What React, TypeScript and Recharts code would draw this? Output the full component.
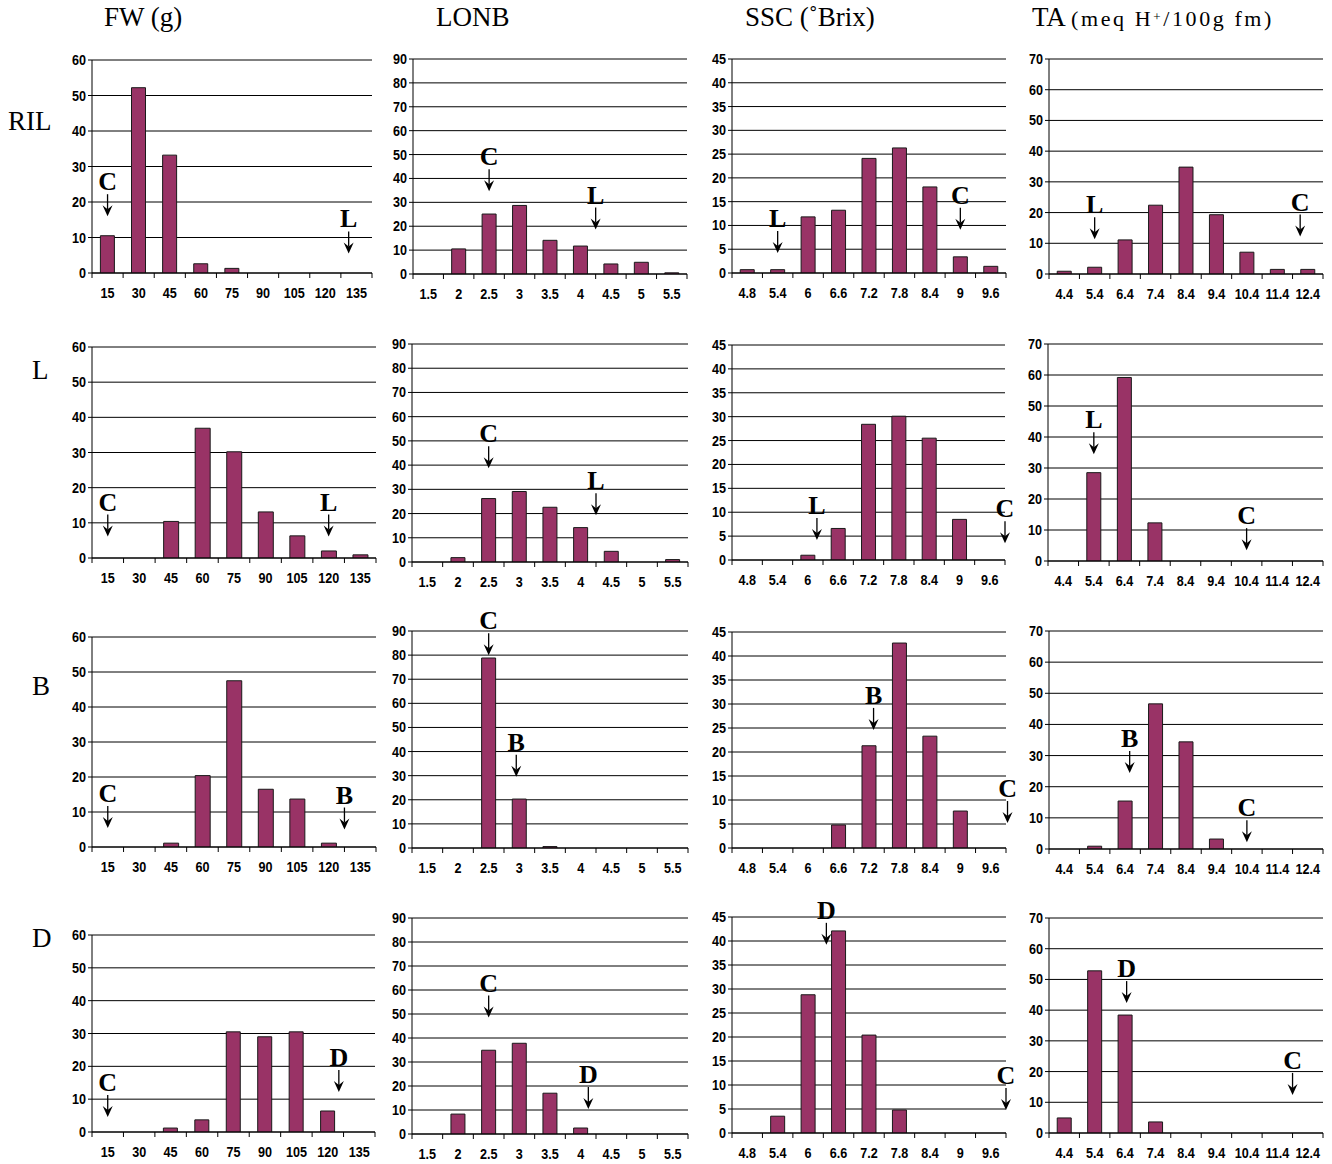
import React from 'react';
import { BarChart, Bar, XAxis, YAxis, CartesianGrid, ReferenceDot } from 'recharts';

// ---------- categories & ticks ----------
const FW_CATS = ['15', '30', '45', '60', '75', '90', '105', '120', '135'];
const LONB_CATS = ['1.5', '2', '2.5', '3', '3.5', '4', '4.5', '5', '5.5'];
const SSC_CATS = ['4.8', '5.4', '6', '6.6', '7.2', '7.8', '8.4', '9', '9.6'];
const TA_CATS = ['4.4', '5.4', '6.4', '7.4', '8.4', '9.4', '10.4', '11.4', '12.4'];

const FW_TICKS = [0, 10, 20, 30, 40, 50, 60];
const LONB_TICKS = [0, 10, 20, 30, 40, 50, 60, 70, 80, 90];
const SSC_TICKS = [0, 5, 10, 15, 20, 25, 30, 35, 40, 45];
const TA_TICKS = [0, 10, 20, 30, 40, 50, 60, 70];

// ---------- series values (frequency %) ----------
const FW_RIL = [10.5, 52.2, 33.2, 2.6, 1.3, 0, 0, 0, 0];
const LONB_RIL = [0, 10.5, 25.1, 28.7, 14.1, 11.7, 4.2, 4.9, 0.5];
const SSC_RIL = [0.7, 0.7, 11.8, 13.2, 24.1, 26.3, 18.1, 3.4, 1.4];
const TA_RIL = [0.9, 2.2, 11.1, 22.4, 34.8, 19.3, 7.1, 1.5, 1.5];

const FW_L = [0, 0, 10.4, 36.9, 30.2, 13.1, 6.3, 2.0, 0.9];
const LONB_L = [0, 1.8, 26.2, 29.1, 22.6, 14.2, 4.4, 0, 1.0];
const SSC_L = [0, 0, 1.0, 6.6, 28.4, 30.1, 25.5, 8.5, 0];
const TA_L = [0, 28.5, 59.2, 12.3, 0, 0, 0, 0, 0];

const FW_B = [0, 0, 1.1, 20.4, 47.5, 16.5, 13.7, 1.1, 0];
const LONB_B = [0, 0, 78.8, 20.3, 0.6, 0, 0, 0, 0];
const SSC_B = [0, 0, 0, 4.8, 21.3, 42.7, 23.3, 7.7, 0];
const TA_B = [0, 0.9, 15.4, 46.6, 34.4, 3.2, 0, 0, 0];

const FW_D = [0, 0, 1.2, 3.7, 30.5, 29.0, 30.5, 6.4, 0];
const LONB_D = [0, 8.3, 34.9, 37.8, 17.0, 2.5, 0, 0, 0];
const SSC_D = [0, 3.5, 28.8, 42.1, 20.4, 4.8, 0, 0, 0];
const TA_D = [4.9, 52.8, 38.4, 3.6, 0, 0, 0, 0, 0];

// ---------- parent markers: letter, category, offset in bands, arrow tip value ----------
type Mark = { letter: string; cat: string; shift: number; tip: number };
const FW_RIL_M: Mark[] = [{ letter: 'C', cat: '15', shift: 0, tip: 16 }, { letter: 'L', cat: '135', shift: -0.25, tip: 5.5 }];
const LONB_RIL_M: Mark[] = [{ letter: 'C', cat: '2.5', shift: 0, tip: 34.6 }, { letter: 'L', cat: '4', shift: 0.5, tip: 18.6 }];
const SSC_RIL_M: Mark[] = [{ letter: 'L', cat: '5.4', shift: 0, tip: 4.2 }, { letter: 'C', cat: '9', shift: 0, tip: 9.1 }];
const TA_RIL_M: Mark[] = [{ letter: 'L', cat: '5.4', shift: 0, tip: 11.3 }, { letter: 'C', cat: '12.4', shift: -0.25, tip: 12.2 }];

const FW_L_M: Mark[] = [{ letter: 'C', cat: '15', shift: 0, tip: 6.1 }, { letter: 'L', cat: '120', shift: 0, tip: 6.1 }];
const LONB_L_M: Mark[] = [{ letter: 'C', cat: '2.5', shift: 0, tip: 38.7 }, { letter: 'L', cat: '4', shift: 0.5, tip: 19.3 }];
const SSC_L_M: Mark[] = [{ letter: 'L', cat: '6', shift: 0.3, tip: 4.2 }, { letter: 'C', cat: '9.6', shift: 0.5, tip: 3.5 }];
const TA_L_M: Mark[] = [{ letter: 'L', cat: '5.4', shift: 0, tip: 34.4 }, { letter: 'C', cat: '10.4', shift: 0, tip: 3.5 }];

const FW_B_M: Mark[] = [{ letter: 'C', cat: '15', shift: 0, tip: 5.4 }, { letter: 'B', cat: '120', shift: 0.5, tip: 5.0 }];
const LONB_B_M: Mark[] = [{ letter: 'C', cat: '2.5', shift: 0, tip: 79.9 }, { letter: 'B', cat: '3', shift: -0.1, tip: 29.6 }];
const SSC_B_M: Mark[] = [{ letter: 'B', cat: '7.2', shift: 0.15, tip: 24.6 }, { letter: 'C', cat: '9.6', shift: 0.55, tip: 5.2 }];
const TA_B_M: Mark[] = [{ letter: 'B', cat: '6.4', shift: 0.15, tip: 24.4 }, { letter: 'C', cat: '10.4', shift: 0, tip: 2.2 }];

const FW_D_M: Mark[] = [{ letter: 'C', cat: '15', shift: 0, tip: 4.6 }, { letter: 'D', cat: '120', shift: 0.35, tip: 12.2 }];
const LONB_D_M: Mark[] = [{ letter: 'C', cat: '2.5', shift: 0, tip: 48.5 }, { letter: 'D', cat: '4', shift: 0.25, tip: 10.4 }];
const SSC_D_M: Mark[] = [{ letter: 'D', cat: '6.6', shift: -0.4, tip: 39.2 }, { letter: 'C', cat: '9.6', shift: 0.5, tip: 4.8 }];
const TA_D_M: Mark[] = [{ letter: 'D', cat: '6.4', shift: 0.05, tip: 42.3 }, { letter: 'C', cat: '12.4', shift: -0.5, tip: 12.4 }];

// ---------- layout (plot rectangles in page pixels) ----------
type Geo = { ax: number; right: number; top: number; zero: number };
type PanelDef = { cats: string[]; ticks: number[]; values: number[]; marks: Mark[]; geo: Geo };

const PANELS: PanelDef[] = [
  { cats: FW_CATS, ticks: FW_TICKS, values: FW_RIL, marks: FW_RIL_M, geo: { ax: 92, right: 372, top: 60, zero: 273 } },
  { cats: LONB_CATS, ticks: LONB_TICKS, values: LONB_RIL, marks: LONB_RIL_M, geo: { ax: 413, right: 687, top: 59, zero: 274 } },
  { cats: SSC_CATS, ticks: SSC_TICKS, values: SSC_RIL, marks: SSC_RIL_M, geo: { ax: 732, right: 1006, top: 59, zero: 273 } },
  { cats: TA_CATS, ticks: TA_TICKS, values: TA_RIL, marks: TA_RIL_M, geo: { ax: 1049, right: 1323, top: 59, zero: 274 } },

  { cats: FW_CATS, ticks: FW_TICKS, values: FW_L, marks: FW_L_M, geo: { ax: 92, right: 376, top: 347, zero: 558 } },
  { cats: LONB_CATS, ticks: LONB_TICKS, values: LONB_L, marks: LONB_L_M, geo: { ax: 412, right: 688, top: 344, zero: 562 } },
  { cats: SSC_CATS, ticks: SSC_TICKS, values: SSC_L, marks: SSC_L_M, geo: { ax: 732, right: 1005, top: 345, zero: 560 } },
  { cats: TA_CATS, ticks: TA_TICKS, values: TA_L, marks: TA_L_M, geo: { ax: 1048, right: 1323, top: 344, zero: 561 } },

  { cats: FW_CATS, ticks: FW_TICKS, values: FW_B, marks: FW_B_M, geo: { ax: 92, right: 376, top: 637, zero: 847 } },
  { cats: LONB_CATS, ticks: LONB_TICKS, values: LONB_B, marks: LONB_B_M, geo: { ax: 412, right: 688, top: 631, zero: 848 } },
  { cats: SSC_CATS, ticks: SSC_TICKS, values: SSC_B, marks: SSC_B_M, geo: { ax: 732, right: 1006, top: 632, zero: 848 } },
  { cats: TA_CATS, ticks: TA_TICKS, values: TA_B, marks: TA_B_M, geo: { ax: 1049, right: 1323, top: 631, zero: 849 } },

  { cats: FW_CATS, ticks: FW_TICKS, values: FW_D, marks: FW_D_M, geo: { ax: 92, right: 375, top: 935, zero: 1132 } },
  { cats: LONB_CATS, ticks: LONB_TICKS, values: LONB_D, marks: LONB_D_M, geo: { ax: 412, right: 688, top: 918, zero: 1134 } },
  { cats: SSC_CATS, ticks: SSC_TICKS, values: SSC_D, marks: SSC_D_M, geo: { ax: 732, right: 1006, top: 917, zero: 1133 } },
  { cats: TA_CATS, ticks: TA_TICKS, values: TA_D, marks: TA_D_M, geo: { ax: 1049, right: 1323, top: 918, zero: 1133 } },
];

const Y_W = 40;
const M_TOP = 40;
const M_RIGHT = 16;
const X_H = 34;
const X_LABEL_DY = 25;
const BAR_FILL = '#993366';
const TICK_FONT = "'Liberation Sans', Arial, sans-serif";
const SERIF = "'Liberation Serif', 'Times New Roman', serif";

const Arrow = (props: any) => {
  const { cx, cy, letter, shift, band } = props;
  if (cx == null || cy == null) return null;
  const x = cx + shift * band;
  return (
    <g>
      <line x1={x} y1={cy - 22} x2={x} y2={cy - 7} stroke="#000" strokeWidth={1.3} />
      <path d={`M${x - 5},${cy - 11} L${x},${cy} L${x + 5},${cy - 11} L${x},${cy - 7} Z`} fill="#000" />
      <text x={x} y={cy - 26} textAnchor="middle" fontFamily={SERIF} fontWeight="bold" fontSize={26} fill="#000">
        {letter}
      </text>
    </g>
  );
};

const Panel = ({ def }: { def: PanelDef }) => {
  const { geo, cats, values, ticks, marks } = def;
  const plotW = geo.right - geo.ax;
  const plotH = geo.zero - geo.top;
  const band = plotW / cats.length;
  const data = cats.map((c, i) => ({ cat: c, value: values[i] }));
  const yMax = ticks[ticks.length - 1];
  const width = Y_W + plotW + M_RIGHT;
  const height = M_TOP + plotH + X_H;

  const XTick = (p: any) => {
    const { x, y, payload, index } = p;
    const last = index === cats.length - 1;
    return (
      <g>
        <line x1={x - band / 2} y1={y} x2={x - band / 2} y2={y + 5} stroke="#000" strokeWidth={1} />
        {last && <line x1={x + band / 2} y1={y} x2={x + band / 2} y2={y + 5} stroke="#000" strokeWidth={1} />}
        <g transform={`translate(${x},${y + X_LABEL_DY})`}>
          <text transform="scale(0.9,1)" textAnchor="middle" fontFamily={TICK_FONT} fontWeight="bold" fontSize={14} fill="#000">
            {payload.value}
          </text>
        </g>
      </g>
    );
  };

  const YTick = (p: any) => {
    const { x, y, payload } = p;
    return (
      <g transform={`translate(${x},${y + 5})`}>
        <text transform="scale(0.9,1)" textAnchor="end" fontFamily={TICK_FONT} fontWeight="bold" fontSize={14} fill="#000">
          {payload.value}
        </text>
      </g>
    );
  };

  return (
    <div style={{ position: 'absolute', left: geo.ax - Y_W, top: geo.top - M_TOP }}>
      <BarChart
        width={width}
        height={height}
        data={data}
        margin={{ top: M_TOP, right: M_RIGHT, left: 0, bottom: 0 }}
        barCategoryGap="27%"
      >
        <CartesianGrid horizontal vertical={false} stroke="#000" strokeWidth={1} />
        <XAxis
          dataKey="cat"
          type="category"
          height={X_H}
          interval={0}
          tickLine={false}
          tickSize={0}
          tickMargin={0}
          axisLine={{ stroke: '#000' }}
          tick={<XTick />}
        />
        <YAxis
          width={Y_W}
          domain={[0, yMax]}
          ticks={ticks}
          interval={0}
          allowDataOverflow
          tickSize={4}
          tickMargin={2}
          tickLine={{ stroke: '#000' }}
          axisLine={{ stroke: '#000' }}
          tick={<YTick />}
        />
        <YAxis
          yAxisId="frame"
          orientation="right"
          width={0}
          tick={false}
          tickLine={false}
          axisLine={{ stroke: '#808080' }}
        />
        <Bar dataKey="value" fill={BAR_FILL} stroke="#1a1a1a" strokeWidth={1} isAnimationActive={false} />
        {marks.map((m, i) => (
          <ReferenceDot
            key={i}
            x={m.cat}
            y={m.tip}
            ifOverflow="visible"
            shape={(sp: any) => <Arrow {...sp} letter={m.letter} shift={m.shift} band={band} />}
          />
        ))}
      </BarChart>
    </div>
  );
};

const TITLE_STYLE: React.CSSProperties = {
  position: 'absolute',
  fontFamily: SERIF,
  fontSize: 27,
  lineHeight: '27px',
  whiteSpace: 'nowrap',
  color: '#000',
};

const ROW_LABELS = [
  { text: 'RIL', left: 8, top: 108 },
  { text: 'L', left: 32, top: 357 },
  { text: 'B', left: 32, top: 673 },
  { text: 'D', left: 32, top: 925 },
];

export default function App() {
  return (
    <div style={{ position: 'absolute', left: 0, top: 0, width: 1332, height: 1164, background: '#fff', overflow: 'hidden' }}>
      <div style={{ ...TITLE_STYLE, left: 104, top: 4 }}>FW (g)</div>
      <div style={{ ...TITLE_STYLE, left: 436, top: 4 }}>LONB</div>
      <div style={{ ...TITLE_STYLE, left: 745, top: 4 }}>SSC (˚Brix)</div>
      <div style={{ ...TITLE_STYLE, left: 1032, top: 4 }}>
        TA{' '}
        <span style={{ fontSize: 22, letterSpacing: 2.6 }}>
          (meq H<sup style={{ fontSize: 13, verticalAlign: 'top', position: 'relative', top: -1 }}>+</sup>/100g fm)
        </span>
      </div>
      {ROW_LABELS.map((r) => (
        <div key={r.text} style={{ ...TITLE_STYLE, left: r.left, top: r.top }}>
          {r.text}
        </div>
      ))}
      {PANELS.map((p, i) => (
        <Panel key={i} def={p} />
      ))}
    </div>
  );
}
